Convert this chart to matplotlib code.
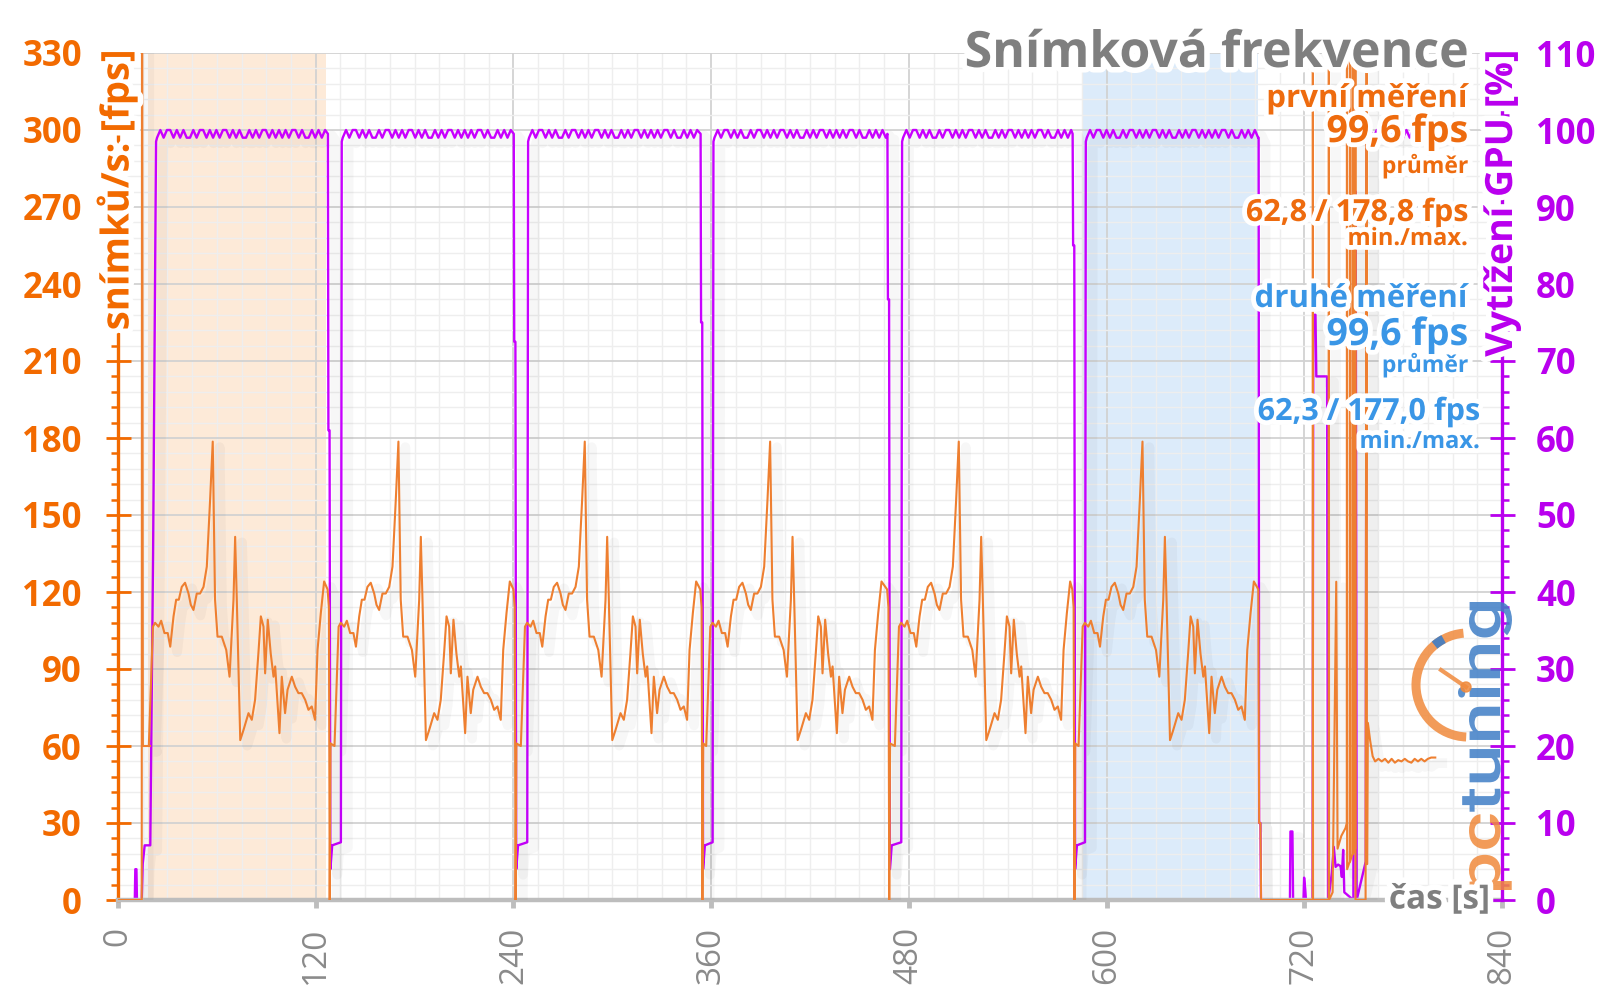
import numpy as np
import matplotlib
matplotlib.use('Agg')
import matplotlib.pyplot as plt
from matplotlib import patheffects as pe
from matplotlib.patches import Arc, Circle, PathPatch
from matplotlib.textpath import TextPath
from matplotlib.font_manager import FontProperties
from matplotlib.transforms import Affine2D

W, H = 1600, 999
FONT = 'Open Sans'

# ---------------- data ----------------
x_ticks = [0, 120, 240, 360, 480, 600, 720, 840]
fps_ticks = list(range(0, 331, 30))
gpu_ticks = list(range(0, 111, 10))

cycle_start = [23.2, 135.9, 249.0, 361.5, 476.0, 587.5]
cycle_drop = [127.4, 240.2, 353.6, 467.0, 579.4, 692.3]
drop_step_gpu = [61, 72.5, 75, 78, 85, 10]

span_first = (18.5, 126.5)
span_second = (585.8, 692.0)

# fps profile of one benchmark run (time relative to run start)
prof_rel = [-4.5, -2.0, -0.7, 1.4, 3.0, 5.0, 7.0, 8.5, 10.5, 12.1, 13.7, 15.5,
            17.5, 19.6, 21.0, 22.6, 24.6, 26.6, 28.7, 30.7, 32.7, 34.3, 35.7,
            37.2, 39.8, 42.5, 44.5, 46.9, 47.9, 48.9, 51.0, 53.0, 56.0, 58.0,
            60.0, 62.0, 63.5, 65.1, 66.1, 67.7, 69.5, 71.2, 72.2, 74.8, 76.2,
            78.2, 79.7, 82.3, 84.3, 86.3, 88.3, 90.4, 92.4, 94.4, 96.4, 97.9,
            99.9, 101.9]
prof_fps = [60, 106.5, 108, 106.5, 108.8, 104, 104, 98.7, 110.5, 117, 117, 122,
            123.6, 119.4, 115, 113, 119.4, 119.4, 122, 129.9, 155.9, 178.6, 117,
            102.6, 102.6, 97.4, 87, 117, 141.5, 117, 62.3, 66.3, 72.8, 70.2,
            78, 96, 110.5, 106.5, 88.3, 109.2, 96, 87, 91, 65, 87,
            72.8, 81.9, 87, 83.1, 80.6, 80.6, 78, 74.1, 75.4, 70.2, 97.4,
            111.8, 124.1]

# GPU load plateau during a run (2 s steps from run start)
gpu_plateau = [99, 100, 99, 100, 100, 99, 100, 99, 100, 99, 99, 100, 99, 100,
               100, 99, 100, 99, 100, 99, 100, 100, 99, 100, 99, 100, 99, 99,
               100, 99, 100, 99, 100, 100, 99, 100, 99, 100, 99, 100, 99, 100,
               100, 99, 100, 99, 99, 100, 99, 100, 99, 100, 99]

# start of recording
start_t = [0, 14.4, 14.6, 15.1, 19.4]
start_fps = [0, 0, 420, 60, 60]
start_gpu_t = [0, 10.2, 10.5, 11.2, 11.5, 14.4, 15.0, 16.2, 19.6, 21.3]
start_gpu = [0, 0, 4, 4, 0, 0, 4.7, 7.1, 7.1, 45]

# end of recording
end_t = [692.1, 692.6, 693.4, 693.8, 725.1, 725.2, 725.35, 734.8, 734.9, 735.05,
         737.2, 739.4, 740.2, 742.5, 745.0, 745.8, 745.9, 746.0, 747.6, 747.7,
         747.8, 749.3, 749.4, 749.5, 750.9, 751.0, 751.1, 757.2, 757.9, 758.0,
         758.2, 758.6, 760.0, 761.5, 763.0, 765.0, 767.0, 769.0, 771.0, 773.0,
         775.0, 777.0, 779.0, 781.0, 783.0, 785.0, 787.0, 789.0, 791.0, 793.0,
         795.0, 797.0, 799.5]
end_fps = [121, 30, 30, 0, 0, 420, 0, 0, 420, 0,
           3, 124, 20, 25, 28, 30, 420, 12, 15, 420,
           15, 18, 420, 18, 20, 420, 0, 0, 420, 14,
           14, 69, 62, 56, 54, 55, 54, 55, 53.5, 55,
           53.5, 54.5, 54, 55, 54, 53.5, 55, 54, 55, 54,
           55, 55.5, 55.5]
end_gpu_t = [692.3, 692.6, 693.4, 693.7, 711.3, 711.6, 712.8, 713.2, 719.5,
             719.9, 720.6, 721.0, 725.0, 725.5, 726.8, 727.3, 733.8, 734.4,
             735.5, 736.7, 737.9, 739.0, 740.5, 742.0, 742.8, 743.6, 744.3,
             749.8, 750.4, 751.2, 751.8, 757.3, 757.8, 760, 762, 764, 766, 768,
             770, 772, 774, 776, 778, 780, 782, 784, 786, 788, 790, 792, 794,
             796, 798, 799.5]
end_gpu = [99, 10, 10, 0, 0, 8.9, 8.9, 0, 0,
           2.9, 1.3, 0, 0, 76, 76, 68, 68, 0,
           1.5, 3.5, 6.9, 4.3, 4.6, 4.4, 3, 6.5, 1,
           0, 92, 92, 0, 5, 99, 100, 99, 100, 99, 100,
           100, 99, 100, 99, 100, 99, 100, 99, 100, 99, 100, 99, 100,
           99, 100, 99]

# ---------------- build series ----------------
fps_t = list(start_t)
fps_v = list(start_fps)
gpu_t = list(start_gpu_t)
gpu_v = list(start_gpu)
n = len(cycle_start)
for i in range(n):
    s, d = cycle_start[i], cycle_drop[i]
    for r, v in zip(prof_rel, prof_fps):
        if s + r < d - 0.3:
            fps_t.append(s + r); fps_v.append(v)
    if i < n - 1:
        fps_t += [d - 0.2, d + 0.6, d + 1.1, d + 1.6]
        fps_v += [121, 114, 0, 61]
    if i > 0:
        gpu_t += [s - 0.6]
        gpu_v += [7.5]
    gpu_t.append(s - 0.1); gpu_v.append(98.5)
    for k, v in enumerate(gpu_plateau):
        tt = s + 0.5 + 2 * k
        if tt < d - 0.2:
            gpu_t.append(tt); gpu_v.append(v)
    if i < n - 1:
        st = drop_step_gpu[i]
        gpu_t += [d, d + 0.3, d + 1.0, d + 1.5, d + 2.6]
        gpu_v += [99.5, st, st, 4, 7.1]
fps_t += end_t; fps_v += end_fps
gpu_t += end_gpu_t; gpu_v += end_gpu

# ---------------- colours ----------------
C_ORANGE_TXT = '#EE6B0E'
C_AXIS_OR = '#F26A00'
C_FPS = '#EE7F30'
C_GPU = '#C800FF'
C_GPU_TXT = '#B900EE'
C_BLUE = '#3A96E6'
C_GRAY = '#8A8A8A'

fig = plt.figure(figsize=(W / 100, H / 100), dpi=100)
ax = fig.add_axes([118 / W, 1 - 900 / H, (1502 - 118) / W, (900 - 53) / H])
ax.set_xlim(0, 840)
ax.set_ylim(0, 330)
ax.set_axisbelow(True)

ax.axvspan(*span_first, color='#FDEAD8', zorder=0.2, lw=0)
ax.axvspan(*span_second, color='#DCEBFA', zorder=0.2, lw=0)

ax.set_xticks(x_ticks)
ax.set_xticks(np.arange(0, 841, 15), minor=True)
ax.set_yticks(fps_ticks, labels=[str(v) for v in fps_ticks], fontweight='bold',
              fontsize=25, color=C_AXIS_OR, family=FONT)
ax.set_yticks(np.arange(0, 331, 6), minor=True)
ax.set_xticklabels([str(v) for v in x_ticks], rotation=90, fontsize=24,
                   color=C_GRAY, family=FONT)
ax.grid(which='major', color='#D2D2D2', lw=1.3, zorder=0.5)
ax.grid(which='minor', color='#EEEEEE', lw=1.0, zorder=0.4)

for sp in ['top', 'right']:
    ax.spines[sp].set_visible(False)
ax.spines['left'].set_color(C_AXIS_OR)
ax.spines['left'].set_linewidth(2.4)
ax.spines['bottom'].set_color('#BDBDBD')
ax.spines['bottom'].set_linewidth(3.2)
ax.tick_params(axis='y', which='major', direction='inout', length=18, width=2.0,
               color=C_AXIS_OR, pad=17)
ax.tick_params(axis='y', which='minor', direction='out', length=5, width=1.8,
               color=C_AXIS_OR)
ax.tick_params(axis='x', which='major', direction='out', length=6, width=3.5,
               color='#BDBDBD', pad=13)
ax.tick_params(axis='x', which='minor', length=0)

shadow = [pe.SimpleLineShadow(offset=(5, -4), shadow_color='#000000', alpha=0.03, linewidth=7),
          pe.Normal()]
ax.plot(fps_t, fps_v, color=C_FPS, lw=1.5, zorder=3, path_effects=shadow)
ax.plot(gpu_t, np.array(gpu_v) * 3.0, color=C_GPU, lw=1.7, zorder=2.5,
        path_effects=shadow)

ax2 = ax.twinx()
ax2.set_ylim(0, 110)
for sp in ['top', 'left', 'bottom']:
    ax2.spines[sp].set_visible(False)
ax2.spines['right'].set_color(C_GPU_TXT)
ax2.spines['right'].set_linewidth(2.4)
ax2.set_yticks(gpu_ticks, labels=[str(v) for v in gpu_ticks], fontweight='bold',
               fontsize=25, color=C_GPU_TXT, family=FONT)
ax2.set_yticks(np.arange(0, 111, 2), minor=True)
ax2.tick_params(axis='y', which='major', direction='inout', length=18, width=2.0,
                color=C_GPU_TXT, pad=15.5)
ax2.tick_params(axis='y', which='minor', direction='out', length=5, width=1.8,
                color=C_GPU_TXT)

# ---------------- overlay texts ----------------
ov = fig.add_axes([0, 0, 1, 1])
ov.set_xlim(0, W)
ov.set_ylim(0, H)
ov.axis('off')
ov.set_zorder(10)


def Y(y):
    return H - y


def txt(x, y, s, size, color, ha='right', va='baseline', rot=0, sw=7, weight='bold'):
    ov.text(x, Y(y), s, fontsize=size, color=color, ha=ha, va=va, rotation=rot,
            family=FONT, fontweight=weight,
            path_effects=[pe.withStroke(linewidth=sw, foreground='white')])


txt(1469, 67, 'Snímková frekvence', 36, '#7F7F7F', sw=8)
txt(1468, 107, 'první měření', 22.5, C_ORANGE_TXT)
txt(1468, 142, '99,6 fps', 27, C_ORANGE_TXT)
txt(1468, 173, 'průměr', 16.5, C_ORANGE_TXT)
txt(1468, 221, '62,8 / 178,8 fps', 22, C_ORANGE_TXT)
txt(1468, 245, 'min./max.', 17, C_ORANGE_TXT)
txt(1468, 307, 'druhé měření', 22.5, C_BLUE)
txt(1468, 345, '99,6 fps', 27, C_BLUE)
txt(1468, 372, 'průměr', 16.5, C_BLUE)
txt(1480, 420, '62,3 / 177,0 fps', 22, C_BLUE)
txt(1480, 448, 'min./max.', 17, C_BLUE)

txt(1490, 900, 'čas [s]', 24, '#7F7F7F', va='center', sw=8)
txt(117, 49, 'snímků/s: [fps]', 27.5, C_AXIS_OR, ha='center', va='top', rot=90, sw=8)
txt(1502, 50, 'Vytížení GPU [%]', 27, C_GPU_TXT, ha='center', va='top', rot=90, sw=8)

# ---------------- logo ----------------
fp = FontProperties(family='Roboto', weight='medium')
p_all = TextPath((0, 0), 'pctuning', size=100, prop=fp)
p_pc = TextPath((0, 0), 'pc', size=100, prop=fp)
p_tu = TextPath((0, 0), 'tuning', size=100, prop=fp)
bb = p_all.get_extents()
bbt = p_tu.get_extents()
L, T = 288, 54
base = Affine2D().translate(-bb.x0, -bb.y0).scale(L / bb.width, T / bb.height) \
    .rotate_deg(90).translate(1512, Y(890))
off = bb.x1 - bbt.x1
tr_tu = Affine2D().translate(off, 0) + base
ov.add_patch(PathPatch(base.transform_path(p_pc), color='#F08A3C', alpha=0.85, lw=0))
ov.add_patch(PathPatch(tr_tu.transform_path(p_tu), color='#3F7EC6', alpha=0.85, lw=0))
cx, cy, r = 1468, 685, 52
ov.add_patch(Arc((cx, Y(cy)), 2 * r, 2 * r, theta1=95, theta2=268, color='#F08A3C',
                 lw=6.5, alpha=0.85))
ov.add_patch(Arc((cx, Y(cy)), 2 * r, 2 * r, theta1=118, theta2=130, color='#3F7EC6',
                 lw=6.5, alpha=0.9))
ov.plot([cx - 2, cx - 27], [Y(cy + 2), Y(cy - 15)], color='#F08A3C', lw=3, alpha=0.85)
ov.add_patch(Circle((cx - 2, Y(cy + 2)), 5, color='#F08A3C', alpha=0.85))

fig.savefig('out.png', dpi=100)
